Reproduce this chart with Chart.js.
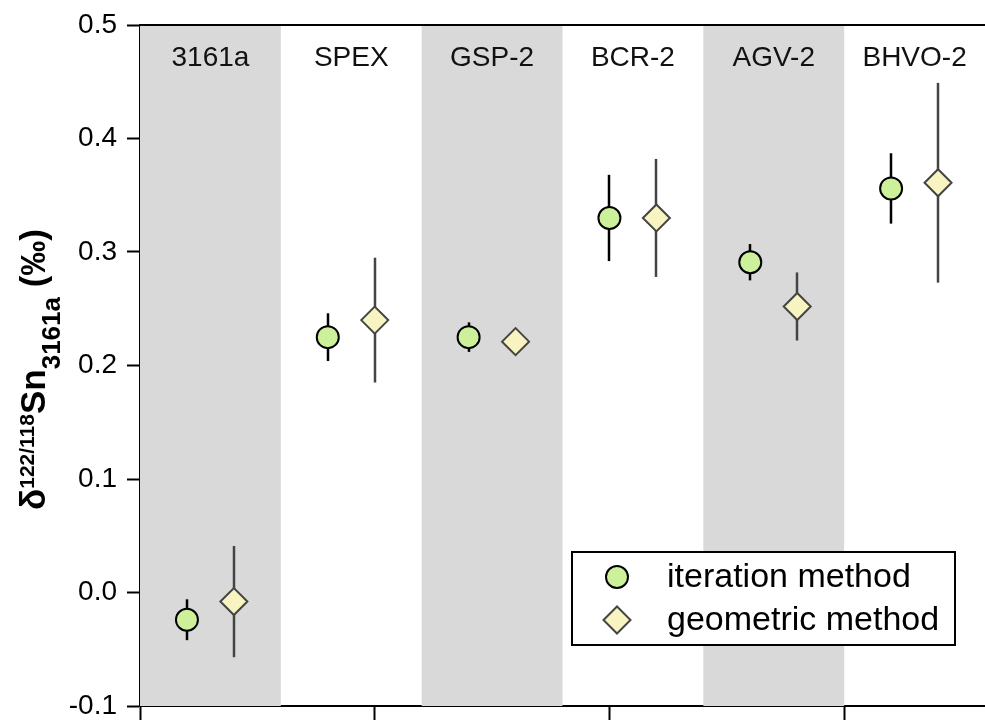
<!DOCTYPE html>
<html>
<head>
<meta charset="utf-8">
<script src="https://cdn.jsdelivr.net/npm/chart.js@4.4.1/dist/chart.umd.min.js"></script>
<style>
  html, body { margin: 0; padding: 0; background: #ffffff; }
  #wrap { width: 985px; height: 720px; }
</style>
</head>
<body>
<div id="wrap"><canvas id="c" width="985" height="720"></canvas></div>
<script>
// ---- data ----
const categories = ['3161a', 'SPEX', 'GSP-2', 'BCR-2', 'AGV-2', 'BHVO-2'];
const iterMean = [-0.024, 0.225, 0.225, 0.330, 0.291, 0.356];
const iterErr  = [0.018, 0.021, 0.013, 0.038, 0.016, 0.031];
const geoMean  = [-0.008, 0.240, 0.221, 0.330, 0.252, 0.361];
const geoErr   = [0.049, 0.055, 0.008, 0.052, 0.030, 0.088];
const yTicks   = [-0.1, 0.0, 0.1, 0.2, 0.3, 0.4, 0.5];
const xTickPos = [0, 5/3, 10/3, 5];
const seriesNames = ['iteration method', 'geometric method'];

const FONT = '"Liberation Sans", Arial, Helvetica, sans-serif';
const GREEN = '#cdf19b';
const YELLOW = '#f8f4c2';

const iterPts = categories.map((c, i) => ({x: i + 1/3, y: iterMean[i], e: iterErr[i]}));
const geoPts  = categories.map((c, i) => ({x: i + 2/3, y: geoMean[i], e: geoErr[i]}));

const bandsPlugin = {
  id: 'bands',
  beforeDatasetsDraw(chart) {
    const {ctx, chartArea: a, scales: {x, y}} = chart;
    ctx.save();
    categories.forEach((c, i) => {
      if (i % 2 === 0) {
        const x0 = x.getPixelForValue(i), x1 = x.getPixelForValue(i + 1);
        ctx.fillStyle = '#d9d9d9';
        ctx.fillRect(x0, a.top, x1 - x0, a.bottom - a.top);
      }
    });
    ctx.fillStyle = '#111';
    ctx.font = '28px ' + FONT;
    ctx.textAlign = 'center';
    ctx.textBaseline = 'middle';
    categories.forEach((c, i) => {
      ctx.fillText(c, x.getPixelForValue(i + 0.5), a.top + 33);
    });
    const drawErr = (pts, color) => {
      ctx.strokeStyle = color;
      ctx.lineWidth = 2.5;
      pts.forEach(p => {
        const px = Math.round(x.getPixelForValue(p.x));
        ctx.beginPath();
        ctx.moveTo(px, y.getPixelForValue(p.y + p.e));
        ctx.lineTo(px, y.getPixelForValue(p.y - p.e));
        ctx.stroke();
      });
    };
    drawErr(iterPts, '#000');
    drawErr(geoPts, '#444');
    ctx.restore();
  },
  afterDraw(chart) {
    const {ctx, chartArea: a} = chart;
    ctx.save();
    ctx.strokeStyle = '#000';
    ctx.lineWidth = 2;
    ctx.beginPath();
    ctx.moveTo(a.left, a.top);
    ctx.lineTo(chart.width, a.top);
    ctx.stroke();

    const runs = [
      {t: 'δ', s: 35, dy: 0},
      {t: '122/118', s: 21, dy: -11},
      {t: 'Sn', s: 35, dy: 0},
      {t: '3161a', s: 26, dy: 15},
      {t: ' (‰)', s: 35, dy: 0}
    ];
    let total = 0;
    runs.forEach(r => { ctx.font = 'bold ' + r.s + 'px ' + FONT; r.w = ctx.measureText(r.t).width; total += r.w; });
    const cy = (a.top + a.bottom) / 2 + 4;
    ctx.translate(45, cy);
    ctx.rotate(-Math.PI / 2);
    ctx.fillStyle = '#000';
    ctx.textBaseline = 'alphabetic';
    ctx.textAlign = 'left';
    let cx = -total / 2;
    runs.forEach(r => {
      ctx.font = 'bold ' + r.s + 'px ' + FONT;
      ctx.fillText(r.t, cx, r.dy);
      cx += r.w;
    });
    ctx.setTransform(1, 0, 0, 1, 0, 0);

    const lx = a.left + 432, ly = a.top + 527, lw = 383, lh = 93;
    ctx.fillStyle = '#fff';
    ctx.fillRect(lx, ly, lw, lh);
    ctx.strokeStyle = '#000';
    ctx.lineWidth = 2;
    ctx.strokeRect(lx, ly, lw, lh);
    const ds = chart.data.datasets;
    [0, 1].forEach(k => {
      const my = ly + 25 + k * 43;
      const d = ds[k];
      ctx.fillStyle = d.backgroundColor;
      ctx.strokeStyle = d.borderColor;
      ctx.lineWidth = d.borderWidth;
      Chart.helpers.drawPoint(ctx, {pointStyle: d.pointStyle, radius: d.pointRadius, borderWidth: d.borderWidth, rotation: 0}, lx + 45, my);
      ctx.fillStyle = '#000';
      ctx.font = '34px ' + FONT;
      ctx.textBaseline = 'middle';
      ctx.textAlign = 'left';
      ctx.fillText(seriesNames[k], lx + 95, my + 1);
    });
    ctx.restore();
  }
};

new Chart(document.getElementById('c'), {
  type: 'scatter',
  data: {
    datasets: [
      {
        label: seriesNames[0],
        data: iterPts,
        pointStyle: 'circle',
        pointRadius: 11,
        pointHoverRadius: 11,
        backgroundColor: GREEN,
        borderColor: '#000',
        borderWidth: 2
      },
      {
        label: seriesNames[1],
        data: geoPts,
        pointStyle: 'rectRot',
        pointRadius: 13.5,
        pointHoverRadius: 13.5,
        backgroundColor: YELLOW,
        borderColor: '#444',
        borderWidth: 2
      }
    ]
  },
  options: {
    responsive: false,
    animation: false,
    events: [],
    layout: { autoPadding: false, padding: { top: 25, right: 0, left: 0, bottom: 0 } },
    plugins: { legend: { display: false }, tooltip: { enabled: false } },
    scales: {
      x: {
        type: 'linear',
        min: 0,
        max: 6,
        afterBuildTicks(s) { s.ticks = xTickPos.map(v => ({value: v})); },
        afterFit(s) { s.height = 14; s.paddingLeft = 0; s.paddingRight = 0; },
        ticks: { display: false },
        grid: { drawOnChartArea: false, drawTicks: true, tickLength: 14, tickColor: '#000', tickWidth: 2 },
        border: { display: true, color: '#000', width: 2 }
      },
      y: {
        type: 'linear',
        min: -0.1,
        max: 0.5,
        afterBuildTicks(s) { s.ticks = yTicks.map(v => ({value: v})); },
        afterFit(s) { s.width = 140; s.paddingTop = 0; s.paddingBottom = 0; },
        ticks: {
          color: '#000',
          font: { family: FONT, size: 28 },
          padding: 10,
          callback: v => Number(v).toFixed(1)
        },
        grid: { drawOnChartArea: false, drawTicks: true, tickLength: 13, tickColor: '#000', tickWidth: 2 },
        border: { display: true, color: '#000', width: 2 }
      }
    }
  },
  plugins: [bandsPlugin]
});
</script>
</body>
</html>
